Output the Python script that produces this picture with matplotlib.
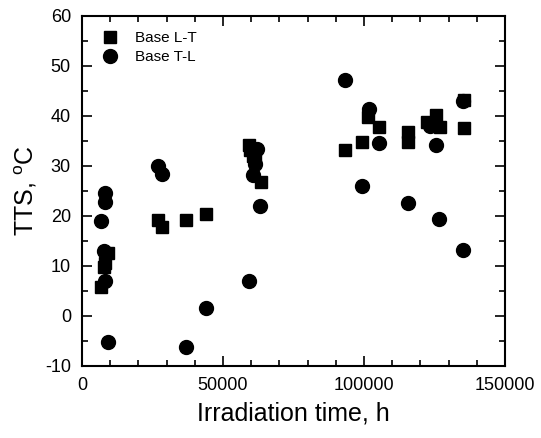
import matplotlib
matplotlib.use("Agg")
import matplotlib.pyplot as plt
from matplotlib.ticker import MultipleLocator

plt.rcParams['font.family'] = ['Liberation Sans', 'DejaVu Sans']
plt.rcParams['mathtext.fontset'] = 'custom'
plt.rcParams['mathtext.rm'] = 'Liberation Sans'
plt.rcParams['axes.unicode_minus'] = False

# Base L-T (squares)
lt_time = [6700, 7900, 8000, 9300, 27100, 28500, 36900, 44000,
           59300, 59600, 60500, 61500, 63500, 93300, 99300, 101500,
           105400, 115700, 115700, 122500, 125700, 127000, 135300, 135600]
lt_tts = [5.8, 9.9, 10.7, 12.7, 19.3, 17.8, 19.2, 20.4,
          34.3, 33.2, 32.0, 31.5, 26.8, 33.2, 34.9, 39.8,
          37.8, 36.9, 34.9, 38.8, 40.2, 37.9, 43.2, 37.7]

# Base T-L (circles)
tl_time = [6700, 7900, 8000, 8200, 8200, 9100, 27100, 28500, 36900, 44000,
           59300, 60500, 61200, 62000, 63100, 93300, 99200, 101900,
           105400, 115700, 123400, 125700, 126600, 135200, 135200]
tl_tts = [19.0, 13.0, 7.0, 22.8, 24.7, -5.2, 30.0, 28.5, -6.1, 1.7,
          7.1, 28.2, 30.5, 33.5, 22.0, 47.2, 26.1, 41.5,
          34.7, 22.7, 38.0, 34.2, 19.4, 13.2, 43.1]

fig = plt.figure(figsize=(5.41, 4.38), dpi=100)
ax = fig.add_axes([82 / 541, 1 - 366 / 438, 423 / 541, 350 / 438])

ax.plot(lt_time, lt_tts, 's', color='black', markersize=9, label='Base L-T')
ax.plot(tl_time, tl_tts, 'o', color='black', markersize=10, label='Base T-L')

ax.set_xlim(0, 150000)
ax.set_ylim(-10, 60)
ax.xaxis.set_major_locator(MultipleLocator(50000))
ax.xaxis.set_minor_locator(MultipleLocator(10000))
ax.yaxis.set_major_locator(MultipleLocator(10))
ax.yaxis.set_minor_locator(MultipleLocator(5))
ax.tick_params(which='both', direction='in', top=True, right=True,
               width=1.2, labelsize=13)
ax.tick_params(which='major', length=7, pad=8)
ax.tick_params(which='minor', length=4)
for s in ax.spines.values():
    s.set_linewidth(1.5)

ax.set_xlabel('Irradiation time, h', fontsize=18, labelpad=5)
ax.set_ylabel(r'TTS, $^{\mathrm{o}}$C', fontsize=18, labelpad=4)

ax.legend(loc='upper left', frameon=False, fontsize=11, handletextpad=0.9,
          borderaxespad=0.6, labelspacing=0.3, borderpad=0.4,
          handlelength=1.6)

fig.savefig('out.png', dpi=100)
